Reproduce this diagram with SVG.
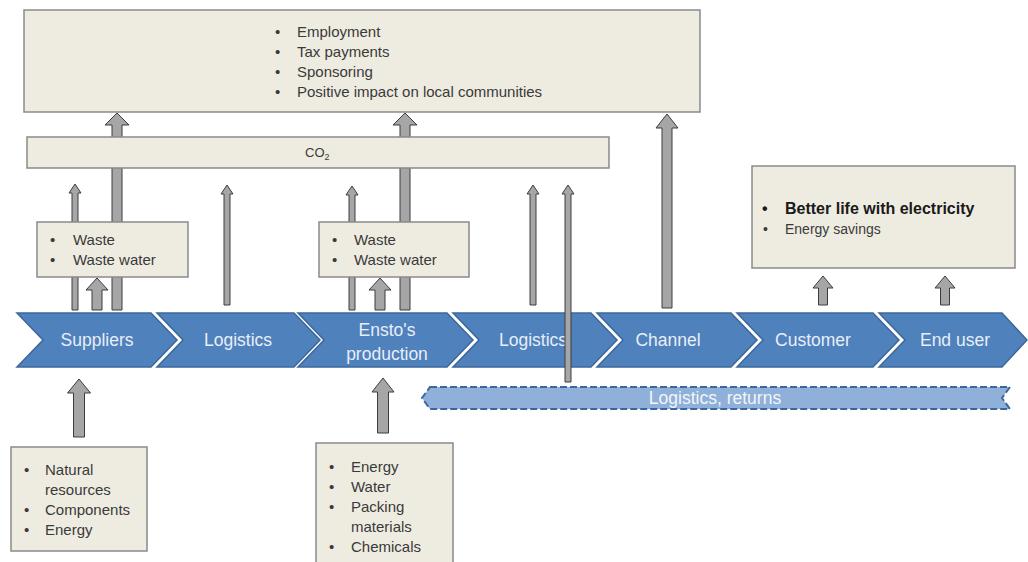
<svg xmlns="http://www.w3.org/2000/svg" width="1028" height="562" viewBox="0 0 1028 562">
<style>
.box{fill:#eeece1;stroke:#8a8a8a;stroke-width:1.5}
.arr{fill:#a6a6a6;stroke:#3c3c3c;stroke-width:1}
.chev{fill:#4f81bd;stroke:#3d679a;stroke-width:1.5}
.ct{font-family:"Liberation Sans",Arial,sans-serif;font-size:17.5px;fill:#e8eef7;text-anchor:middle}
.t{font-family:"Liberation Sans",Arial,sans-serif;font-size:15px;fill:#3a3a3a}
.b{font-family:"Liberation Sans",Arial,sans-serif;font-size:16px;font-weight:bold;fill:#1a1a1a}
</style>
<rect width="1028" height="562" fill="#ffffff"/>
<g id="connectors-back">
<path class="arr" d="M112,310 V125 H105 L117,113 L129,125 H122 V310 Z"/>
<path class="arr" d="M72,310 V193 H69 L75,184 L81,193 H78 V310 Z"/>
<path class="arr" d="M400,310 V125 H393 L405,113 L417,125 H410 V310 Z"/>
<path class="arr" d="M349,310 V195 H346 L352,186 L358,195 H355 V310 Z"/>
</g>
<g id="top-box">
<rect class="box" x="24" y="10" width="676" height="102"/>
<text class="t" x="275" y="37">•</text><text class="t" x="297" y="37">Employment</text>
<text class="t" x="275" y="57">•</text><text class="t" x="297" y="57">Tax payments</text>
<text class="t" x="275" y="77">•</text><text class="t" x="297" y="77">Sponsoring</text>
<text class="t" x="275" y="97">•</text><text class="t" x="297" y="97">Positive impact on local communities</text>
</g>
<g id="co2-box">
<rect class="box" x="27" y="137" width="582" height="31"/>
<text class="t" x="305" y="157" style="font-size:13px">CO<tspan dy="3" style="font-size:9px">2</tspan></text>
</g>
<g id="waste-box-1">
<rect class="box" x="37" y="222" width="151" height="55"/>
<text class="t" x="50" y="245">•</text><text class="t" x="73" y="245">Waste</text>
<text class="t" x="50" y="265">•</text><text class="t" x="73" y="265">Waste water</text>
</g>
<g id="waste-box-2">
<rect class="box" x="319" y="222" width="150" height="55"/>
<text class="t" x="332" y="245">•</text><text class="t" x="354" y="245">Waste</text>
<text class="t" x="332" y="265">•</text><text class="t" x="354" y="265">Waste water</text>
</g>
<g id="benefit-box">
<rect class="box" x="752" y="166" width="263" height="102"/>
<text class="b" x="762" y="214">•</text><text class="b" x="785" y="214">Better life with electricity</text>
<text class="t" x="763" y="234" style="font-size:14px">•</text><text class="t" x="785" y="234" style="font-size:14px">Energy savings</text>
</g>
<g id="input-box-1">
<rect class="box" x="11" y="447" width="136" height="104"/>
<text class="t" x="24" y="475">•</text><text class="t" x="45" y="475">Natural</text>
<text class="t" x="45" y="495">resources</text>
<text class="t" x="24" y="515">•</text><text class="t" x="45" y="515">Components</text>
<text class="t" x="24" y="535">•</text><text class="t" x="45" y="535">Energy</text>
</g>
<g id="input-box-2">
<rect class="box" x="316" y="443" width="137" height="125"/>
<text class="t" x="329" y="472">•</text><text class="t" x="351" y="472">Energy</text>
<text class="t" x="329" y="492">•</text><text class="t" x="351" y="492">Water</text>
<text class="t" x="329" y="512">•</text><text class="t" x="351" y="512">Packing</text>
<text class="t" x="351" y="532">materials</text>
<text class="t" x="329" y="552">•</text><text class="t" x="351" y="552">Chemicals</text>
</g>
<g id="chain">
<g id="suppliers"><polygon class="chev" points="17,313 151,313 177,340 151,367 17,367 43,340"/><text class="ct" x="97" y="346">Suppliers</text></g>
<g id="logistics-1"><polygon class="chev" points="157,313 294,313 320,340 294,367 157,367 183,340"/><text class="ct" x="238" y="346">Logistics</text></g>
<g id="production"><polygon class="chev" points="298,313 447,313 473,340 447,367 298,367 324,340"/><text class="ct" x="387" y="336">Ensto's</text><text class="ct" x="387" y="360">production</text></g>
<g id="logistics-2"><polygon class="chev" points="453,313 591,313 617,340 591,367 453,367 479,340"/><text class="ct" x="533" y="346">Logistics</text></g>
<g id="channel"><polygon class="chev" points="597,313 731,313 757,340 731,367 597,367 623,340"/><text class="ct" x="668" y="346">Channel</text></g>
<g id="customer"><polygon class="chev" points="737,313 873,313 899,340 873,367 737,367 763,340"/><text class="ct" x="813" y="346">Customer</text></g>
<g id="end-user"><polygon class="chev" points="879,313 1002,313 1027,340 1002,367 879,367 905,340"/><text class="ct" x="955" y="346">End user</text></g>
</g>
<g id="returns">
<polygon points="430,387 1010,387 1002,398 1010,409 430,409 422,398" fill="#8fb0d9" stroke="#3d679a" stroke-width="2" stroke-dasharray="7,3"/>
<text class="ct" x="715" y="404" style="fill:#f2f6fb">Logistics, returns</text>
</g>
<g id="connectors">
<path class="arr" d="M92,310 V290 H86 L97,278 L108,290 H102 V310 Z"/>
<path class="arr" d="M224,305 V194 H221 L227,185 L233,194 H230 V305 Z"/>
<path class="arr" d="M375,310 V290 H369 L380,278 L391,290 H385 V310 Z"/>
<path class="arr" d="M530,305 V194 H527 L533,185 L539,194 H536 V305 Z"/>
<path class="arr" d="M565,382 V194 H562 L568,185 L574,194 H571 V382 Z"/>
<path class="arr" d="M662,308 V128 H656 L667,114 L678,128 H672 V308 Z"/>
<path class="arr" d="M818.5,305 V288 H813 L823,276 L833,288 H827.5 V305 Z"/>
<path class="arr" d="M940.5,305 V288 H935 L945,276 L955,288 H949.5 V305 Z"/>
<path class="arr" d="M73.5,437 V393 H67.5 L79,379 L90.5,393 H84.5 V437 Z"/>
<path class="arr" d="M377.5,433 V392 H372 L383,378 L394,392 H388.5 V433 Z"/>
</g>
</svg>
